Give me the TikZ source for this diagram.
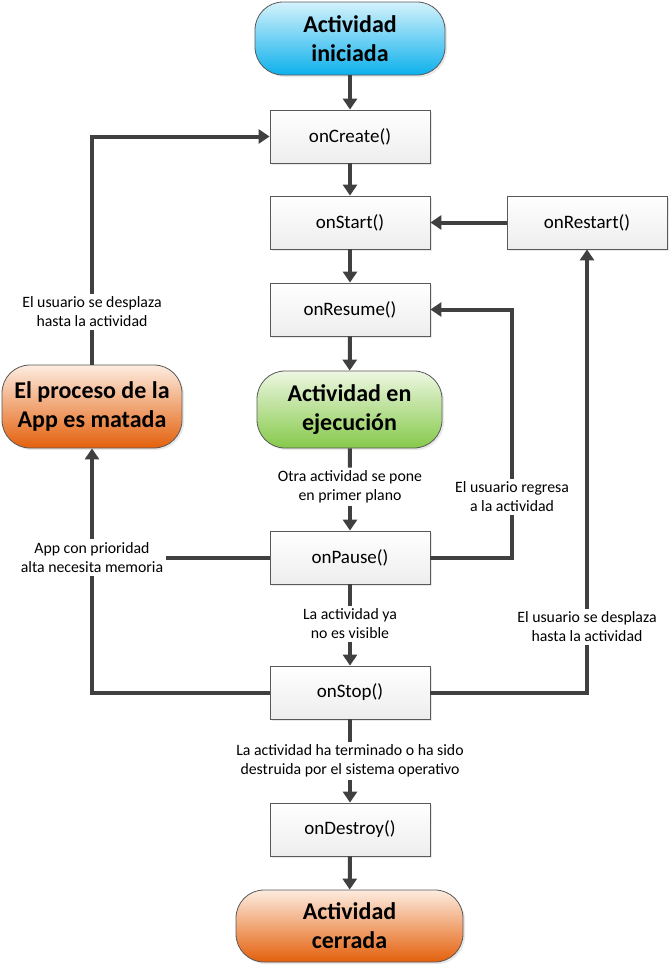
\documentclass[tikz,border=0pt]{standalone}
\usepackage{fontspec}
\setmainfont{Carlito}
\usetikzlibrary{arrows.meta,shadows}
\definecolor{ln}{HTML}{404040}
\definecolor{bord}{HTML}{595959}
\definecolor{blueT}{HTML}{D4F2FC}
\definecolor{blueB}{HTML}{0DB0EC}
\definecolor{greenT}{HTML}{EDF7E2}
\definecolor{greenB}{HTML}{86C94A}
\definecolor{orT}{HTML}{FDECE0}
\definecolor{orB}{HTML}{E4600C}
\begin{document}
\begin{tikzpicture}[x=1pt,y=-1pt,
 proc/.style={draw=bord, line width=0.8pt, minimum width=160pt, minimum height=53pt,
   top color=white, bottom color=gray!14, inner sep=0pt,
   drop shadow={opacity=0.18, shadow xshift=2pt, shadow yshift=-2pt},
   font=\fontsize{19}{22}\selectfont},
 term/.style={draw=bord, line width=0.8pt, rounded corners=28pt, inner sep=0pt,
   align=center, font=\fontsize{24}{29}\selectfont\bfseries,
   drop shadow={opacity=0.18, shadow xshift=2pt, shadow yshift=-2pt}},
 lab/.style={fill=white, align=center, inner xsep=3pt, inner ysep=3pt,
   font=\fontsize{15.8}{19}\selectfont},
 conn/.style={draw=ln, line width=4pt},
 arr/.style={conn, -{Triangle[length=11pt,width=14pt]}}
]
\useasboundingbox (0,0) rectangle (669,969);

\node[term, top color=blueT, bottom color=blueB, minimum width=190pt, minimum height=73pt] (start) at (350,38.5) {Actividad\\iniciada};
\node[proc] (create) at (350,136.5) {onCreate()};
\node[proc] (startc) at (350,222.5) {onStart()};
\node[proc] (restart) at (587,222.5) {onRestart()};
\node[proc] (resume) at (350,309.5) {onResume()};
\node[term, top color=greenT, bottom color=greenB, minimum width=185pt, minimum height=77pt] (run) at (349.5,409.5) {Actividad en\\ejecución};
\node[proc] (pause) at (350,557.5) {onPause()};
\node[proc] (stop) at (350,692.5) {onStop()};
\node[proc] (destroy) at (350,829.5) {onDestroy()};
\node[term, top color=orT, bottom color=orB, minimum width=227pt, minimum height=72pt] (endn) at (349.5,926) {Actividad\\cerrada};
\node[term, top color=orT, bottom color=orB, minimum width=180pt, minimum height=83pt] (kill) at (92,406.5) {El proceso de la\\App es matada};

\node[lab] (l1) at (92,312) {El usuario se desplaza\\hasta la actividad};
\node[lab] (l2) at (92,557.5) {App con prioridad\\alta necesita memoria};
\node[lab] (l3) at (512,497) {El usuario regresa\\a la actividad};
\node[lab] (l4) at (587,627) {El usuario se desplaza\\hasta la actividad};
\node[lab] (l5) at (350,487) {Otra actividad se pone\\en primer plano};
\node[lab] (l6) at (350,624) {La actividad ya\\no es visible};
\node[lab] (l7) at (350,761) {La actividad ha terminado o ha sido\\destruida por el sistema operativo};

\draw[arr] (start) -- (create);
\draw[arr] (create) -- (startc);
\draw[arr] (startc) -- (resume);
\draw[arr] (resume) -- (run);
\draw[arr] (restart) -- (startc);
\draw[conn] (run) -- (l5);
\draw[arr] (l5) -- (pause);
\draw[conn] (pause) -- (l6);
\draw[arr] (l6) -- (stop);
\draw[conn] (stop) -- (l7);
\draw[arr] (l7) -- (destroy);
\draw[arr] (destroy) -- (endn);

\draw[conn] (kill.north) -- (l1.south);
\draw[arr] (l1.north) |- (create.west);
\draw[conn] (pause.west) -- (l2.east);
\draw[conn] (stop.west) -| (l2.south);
\draw[arr] (l2.north) -- (kill.south);
\draw[conn] (pause.east) -| (l3.south);
\draw[arr] (l3.north) |- (resume.east);
\draw[conn] (stop.east) -| (l4.south);
\draw[arr] (l4.north) -- (restart.south);
\end{tikzpicture}
\end{document}
